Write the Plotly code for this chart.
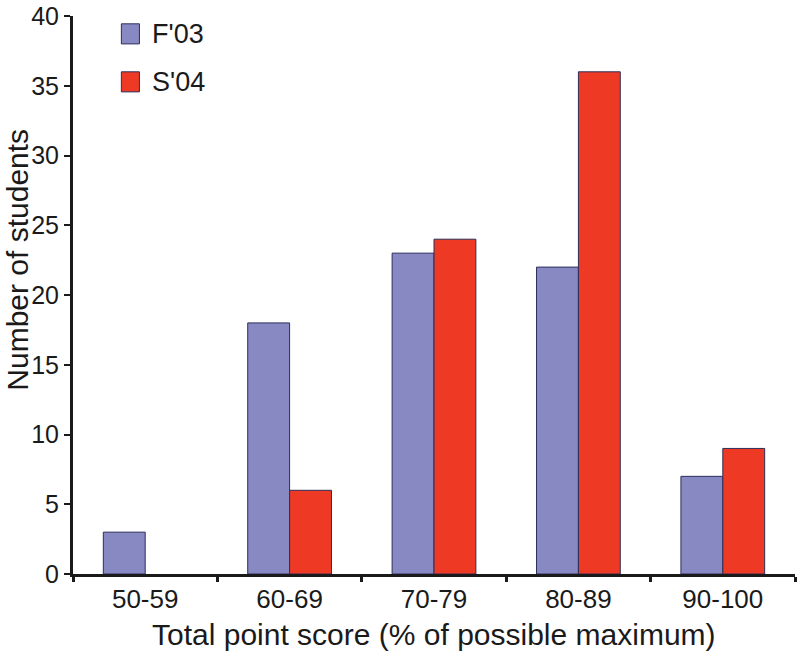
import plotly.graph_objects as go

categories = ["50-59", "60-69", "70-79", "80-89", "90-100"]
f03 = [3, 18, 23, 22, 7]
s04 = [0, 6, 24, 36, 9]
series_names = ["F'03", "S'04"]
colors = ["#8889C3", "#EE3A24"]
y_ticks = [0, 5, 10, 15, 20, 25, 30, 35, 40]
x_title = "Total point score (% of possible maximum)"
y_title = "Number of students"

FONT = "Liberation Sans, Arial, Helvetica, sans-serif"
INK = "#1a1a1a"

fig = go.Figure()
for name, vals, col in zip(series_names, [f03, s04], colors):
    fig.add_trace(go.Bar(
        x=categories, y=vals, name=name,
        marker=dict(color=col,
                    line=dict(color="#2B2F5C", width=[1 if v else 0 for v in vals])),
        showlegend=False,
    ))

fig.update_layout(
    width=797, height=652,
    margin=dict(l=73, r=2, t=14, b=78),
    paper_bgcolor="white", plot_bgcolor="white",
    barmode="group", bargap=0.42, bargroupgap=0,
    font=dict(family=FONT, size=26, color=INK),
)
fig.update_xaxes(
    range=[-0.5, 4.5], showline=True, linecolor=INK, linewidth=3,
    ticks="outside", tickson="boundaries", ticklen=5, tickwidth=3, tickcolor=INK,
    showgrid=False, zeroline=False, tickfont=dict(size=26),
)
fig.update_yaxes(
    range=[0, 40], tickvals=y_ticks, showline=True, linecolor=INK, linewidth=3,
    ticks="outside", ticklen=6, tickwidth=2, tickcolor=INK,
    showgrid=False, zeroline=False, tickfont=dict(size=25),
    ticklabeloverflow="allow",
)

# axis titles as annotations for precise placement
fig.add_annotation(xref="paper", yref="paper", x=0.5, y=-0.108, text=x_title,
                   showarrow=False, xanchor="center", yanchor="middle",
                   font=dict(size=30, family=FONT, color=INK))
fig.add_annotation(xref="paper", yref="paper", x=-0.077, y=0.564, text=y_title,
                   textangle=-90, showarrow=False, xanchor="center", yanchor="middle",
                   font=dict(size=30, family=FONT, color=INK))

# custom legend
leg_y = [0.968, 0.882]
for name, col, yy in zip(series_names, colors, leg_y):
    fig.add_shape(type="rect", xref="paper", yref="paper",
                  x0=0.067, x1=0.092, y0=yy - 0.018, y1=yy + 0.018,
                  fillcolor=col, line=dict(color="#2B2F5C", width=1))
    fig.add_annotation(xref="paper", yref="paper", x=0.106, y=yy, text=name,
                       showarrow=False, xanchor="left", yanchor="middle",
                       font=dict(size=27, family=FONT, color=INK))

fig.write_html("out.html", config={"displayModeBar": False},
               post_script="document.body.style.margin='0px';")
